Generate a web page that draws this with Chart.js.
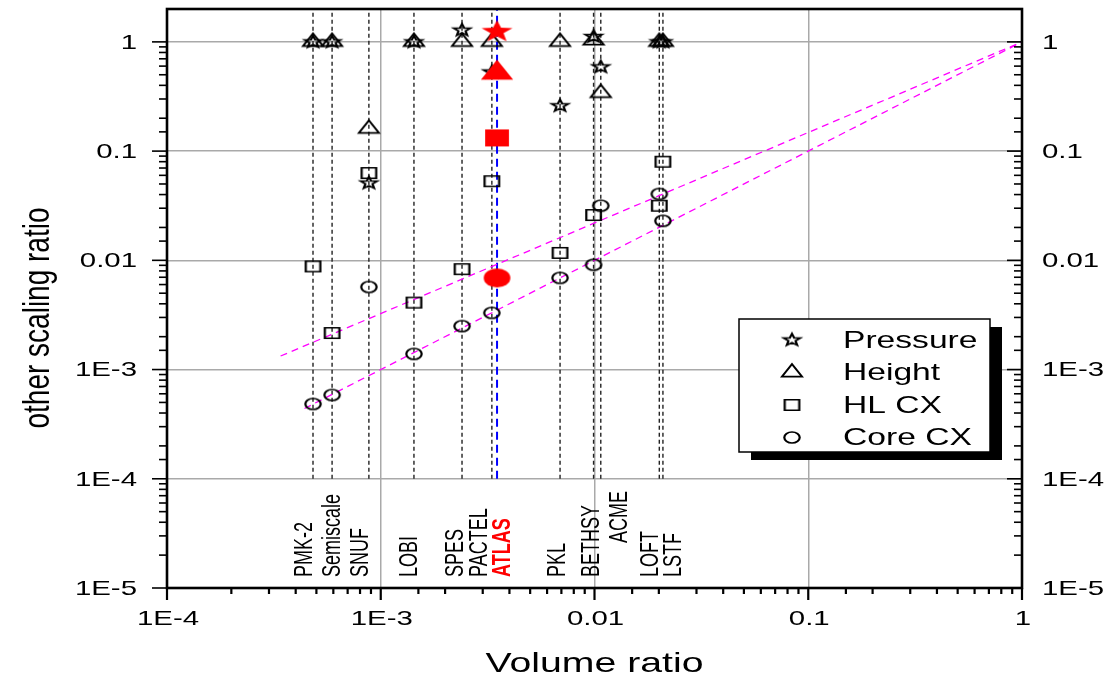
<!DOCTYPE html>
<html>
<head>
<meta charset="utf-8">
<title>Volume ratio vs other scaling ratio</title>
<script src="https://cdn.jsdelivr.net/npm/chart.js@4.4.1/dist/chart.umd.min.js"></script>
<style>
  html, body { margin: 0; padding: 0; background: #fff; }
</style>
</head>
<body>
<canvas id="plot" width="1117" height="679"></canvas>
<script>
// ---------------------------------------------- data -------------------------------------
var facilities = ['PMK-2', 'Semiscale', 'SNUF', 'LOBI', 'SPES', 'PACTEL', 'ATLAS', 'PKL', 'BETHSY', 'ACME', 'LOFT', 'LSTF'];
var volumeRatio = [4.82e-4, 5.92e-4, 8.8e-4, 1.43e-3, 2.4e-3, 3.31e-3, 3.5e-3, 6.9e-3, 9.9e-3, 1.07e-2, 2.01e-2, 2.09e-2];
var pressureRatio = [1, 1, 0.051, 1, 1.28, 0.53, 1.24, 0.26, 1.12, 0.59, 1, 1];
var heightRatio = [1, 1, 0.16, 1, 1, 1, 0.52, 1, 1.03, 0.34, 1, 1];
var hlcxRatio = [0.0088, 0.00216, 0.063, 0.0041, 0.0083, 0.053, 0.132, 0.0117, 0.026, null, 0.0316, 0.080];
var coreRatio = [4.84e-4, 5.85e-4, 0.0057, 1.39e-3, 2.5e-3, 3.3e-3, 0.0069, 0.0069, 0.0091, 0.0316, 0.0405, 0.023];

// the two magenta dashed reference lines
var fitUpperX = [3.4e-4, 1];
var fitUpperY = [1.33e-3, 1];
var fitLowerX = [4.4e-4, 1];
var fitLowerY = [4.4e-4, 1];

var xTickValues = [1e-4, 1e-3, 0.01, 0.1, 1];
var xTickLabels = ['1E-4', '1E-3', '0.01', '0.1', '1'];
var yTickValues = [1e-5, 1e-4, 1e-3, 0.01, 0.1, 1];
var yTickLabels = ['1E-5', '1E-4', '1E-3', '0.01', '0.1', '1'];
var legendLabels = ['Pressure', 'Height', 'HL CX', 'Core CX'];

var xMin = 1e-4, xMax = 1, yMin = 1e-5, yMax = 2;
var guideBottom = 1e-4; // facility lines stop here

// ---------------------------------------------- layout / style -------------------------------------------------
var SX = 1.4; // the picture is stretched sideways, text and markers too
var FONT = '"Liberation Sans", Arial, sans-serif';
var labelShift = [-1, 8, -1, 3, 1, -5, 13, 5, 5, 26, -1, 18];
var labelLift = [0, 0, 0, 0, 0, 0, 0, 0, 0, 34, 0, 0];

var atlas = facilities.indexOf('ATLAS');

function isMajor(v) {
    var l = Math.log10(v);
    return Math.abs(l - Math.round(l)) < 1e-6;
}

// marker pictures, drawn wide like in the original
function marker(kind, r, filled, color, lw) {
    var w = Math.ceil(2 * r * SX + lw * SX + 4);
    var h = Math.ceil(2 * r + lw + 4);
    var c = document.createElement('canvas');
    c.width = w;
    c.height = h;
    var g = c.getContext('2d');
    g.translate(w / 2, h / 2);
    g.scale(SX, 1);
    g.beginPath();
    if (kind == 'circle') {
        g.arc(0, 0, r, 0, Math.PI * 2);
    } else if (kind == 'square') {
        g.rect(-r, -r, 2 * r, 2 * r);
    } else if (kind == 'triangle') {
        for (var i = 0; i < 3; i++) {
            var a = -Math.PI / 2 + i * 2 * Math.PI / 3;
            g.lineTo(r * Math.cos(a), r * Math.sin(a));
        }
        g.closePath();
    } else if (kind == 'star') {
        for (var j = 0; j < 10; j++) {
            var b = -Math.PI / 2 + j * Math.PI / 5;
            var rr = j % 2 ? r * 0.42 : r;
            g.lineTo(rr * Math.cos(b), rr * Math.sin(b));
        }
        g.closePath();
    }
    if (filled) {
        g.fillStyle = color;
        g.fill();
    } else {
        g.lineWidth = lw;
        g.strokeStyle = color;
        g.stroke();
    }
    return c;
}

var mStar = marker('star', 6.3, false, '#000', 1.6);
var mTri = marker('triangle', 8.3, false, '#000', 1.6);
var mSq = marker('square', 5.2, false, '#000', 1.6);
var mCirc = marker('circle', 5.5, false, '#000', 1.6);
var rStar = marker('star', 11.6, true, '#ff0000', 0);
var rTri = marker('triangle', 13.3, true, '#ff0000', 0);
var rSq = marker('square', 8.5, true, '#ff0000', 0);
var rCirc = marker('circle', 9.5, true, '#ff0000', 0);

function pts(vals) {
    var out = [];
    for (var i = 0; i < facilities.length; i++) {
        if (i == atlas || vals[i] == null) continue;
        out.push({ x: volumeRatio[i], y: vals[i] });
    }
    return out;
}

function linePts(xs, ys) {
    var out = [];
    for (var i = 0; i < xs.length; i++) out.push({ x: xs[i], y: ys[i] });
    return out;
}

var guides = [];
for (var i = 0; i < facilities.length; i++) {
    if (i == atlas) continue;
    guides.push({ x: volumeRatio[i], y: guideBottom }, { x: volumeRatio[i], y: yMax }, { x: volumeRatio[i], y: null });
}

function markerSet(label, data, style) {
    return { label: label, data: data, pointStyle: style, pointRadius: 8, showLine: false };
}

function dashSet(label, data, color, width, dash) {
    return {
        label: label, data: data, showLine: true, pointRadius: 0, borderColor: color,
        borderWidth: width, borderDash: dash, spanGaps: false, fill: false
    };
}

// ---------------------------------------------- text and frame -------------------------------------------------
function say(g, txt, x, y, size, align, color, weight) {
    g.save();
    g.translate(x, y);
    g.scale(SX, 1);
    g.font = (weight || 'normal') + ' ' + size + 'px ' + FONT;
    g.textAlign = align;
    g.textBaseline = 'middle';
    g.fillStyle = color || '#000';
    g.fillText(txt, 0, 0);
    g.restore();
}

function sayUp(g, txt, x, y, size, align, color, weight, stretch) {
    g.save();
    g.translate(x, y);
    g.rotate(-Math.PI / 2);
    g.scale(1, stretch);
    g.font = (weight || 'normal') + ' ' + size + 'px ' + FONT;
    g.textAlign = align;
    g.textBaseline = 'alphabetic';
    g.fillStyle = color || '#000';
    g.fillText(txt, 0, 0);
    g.restore();
}

function seg(g, x1, y1, x2, y2) {
    g.beginPath();
    g.moveTo(x1, y1);
    g.lineTo(x2, y2);
    g.stroke();
}

var decor = {
    id: 'decor',
    afterDraw: function (ch) {
        var g = ch.ctx, a = ch.chartArea, xs = ch.scales.x, ys = ch.scales.y;
        g.save();
        g.strokeStyle = '#000';
        // ticks: left out, right in, bottom out
        g.lineWidth = 1.6;
        ys.ticks.forEach(function (t) {
            if (t.value > 1.0001) return;
            var py = ys.getPixelForValue(t.value);
            var len = isMajor(t.value) ? 15 : 8;
            seg(g, a.left - len, py, a.left, py);
            seg(g, a.right - len, py, a.right, py);
        });
        g.lineWidth = 2.2;
        xs.ticks.forEach(function (t) {
            var px = xs.getPixelForValue(t.value);
            seg(g, px, a.bottom, px, a.bottom + (isMajor(t.value) ? 12 : 6));
        });
        // frame
        g.lineWidth = 2.6;
        g.strokeRect(a.left, a.top, a.right - a.left, a.bottom - a.top);

        // tick labels
        for (var i = 0; i < yTickValues.length; i++) {
            var py = ys.getPixelForValue(yTickValues[i]) + 1;
            say(g, yTickLabels[i], a.left - 30, py, 21, 'right');
            say(g, yTickLabels[i], a.right + 20, py, 21, 'left');
        }
        for (var k = 0; k < xTickValues.length; k++) {
            say(g, xTickLabels[k], xs.getPixelForValue(xTickValues[k]) + 1, a.bottom + 31, 21, 'center');
        }
        // axis titles
        say(g, 'Volume ratio', (a.left + a.right) / 2, a.bottom + 76, 28, 'center');
        sayUp(g, 'other scaling ratio', 49, 318, 28, 'center', '#000', 'normal', 1.35);

        // facility names
        for (var f = 0; f < facilities.length; f++) {
            var fx = xs.getPixelForValue(volumeRatio[f]) + labelShift[f];
            var red = f == atlas;
            sayUp(g, facilities[f], fx, a.bottom - 11 - labelLift[f], 18, 'left',
                red ? '#ff0000' : '#000', red ? 'bold' : 'normal', SX);
        }

        // legend box with its shadow
        var bx = 739, by = 319, bw = 251, bh = 133;
        g.fillStyle = '#000';
        g.fillRect(bx + 12, by + 8, bw, bh);
        g.fillStyle = '#fff';
        g.fillRect(bx, by, bw, bh);
        g.lineWidth = 1.5;
        g.strokeRect(bx, by, bw, bh);
        var icons = [mStar, mTri, mSq, mCirc];
        for (var n = 0; n < legendLabels.length; n++) {
            var ry = by + 21 + n * 32.5;
            var ic = icons[n];
            g.drawImage(ic, bx + 53 - ic.width / 2, ry - ic.height / 2);
            say(g, legendLabels[n], bx + 104, ry + 1, 24, 'left');
        }
        g.restore();
    }
};

// ---------------------------------------------- chart ----------------------------------------------------------
function gridColor(c) {
    return c.tick && isMajor(c.tick.value) ? '#a9a9a9' : 'rgba(0,0,0,0)';
}

new Chart(document.getElementById('plot').getContext('2d'), {
    type: 'scatter',
    data: {
        datasets: [
            {
                label: 'ATLAS',
                data: [
                    { x: volumeRatio[atlas], y: pressureRatio[atlas] },
                    { x: volumeRatio[atlas], y: heightRatio[atlas] },
                    { x: volumeRatio[atlas], y: hlcxRatio[atlas] },
                    { x: volumeRatio[atlas], y: coreRatio[atlas] }
                ],
                pointStyle: [rStar, rTri, rSq, rCirc],
                pointRadius: 12,
                showLine: false
            },
            markerSet('Core CX', pts(coreRatio), mCirc),
            markerSet('HL CX', pts(hlcxRatio), mSq),
            markerSet('Height', pts(heightRatio), mTri),
            markerSet('Pressure', pts(pressureRatio), mStar),
            dashSet('fit upper', linePts(fitUpperX, fitUpperY), '#ff00ff', 1.3, [7, 5]),
            dashSet('fit lower', linePts(fitLowerX, fitLowerY), '#ff00ff', 1.3, [7, 5]),
            dashSet('ATLAS line', [{ x: volumeRatio[atlas], y: guideBottom }, { x: volumeRatio[atlas], y: yMax }], '#0000ff', 2, [8, 5]),
            dashSet('facilities', guides, '#222', 1.4, [4, 3])
        ]
    },
    options: {
        responsive: false,
        animation: false,
        layout: { autoPadding: false, padding: { top: 9, right: 95 } },
        plugins: { legend: { display: false }, tooltip: { enabled: false } },
        scales: {
            x: {
                type: 'logarithmic', min: xMin, max: xMax, position: 'bottom',
                afterFit: function (s) { s.height = 91; },
                ticks: { display: false },
                border: { display: false },
                grid: { color: gridColor, lineWidth: 1.5, drawTicks: false }
            },
            y: {
                type: 'logarithmic', min: yMin, max: yMax, position: 'left',
                afterFit: function (s) { s.width = 167; },
                ticks: { display: false },
                border: { display: false },
                grid: { color: gridColor, lineWidth: 1.5, drawTicks: false }
            }
        }
    },
    plugins: [decor]
});
</script>
</body>
</html>
